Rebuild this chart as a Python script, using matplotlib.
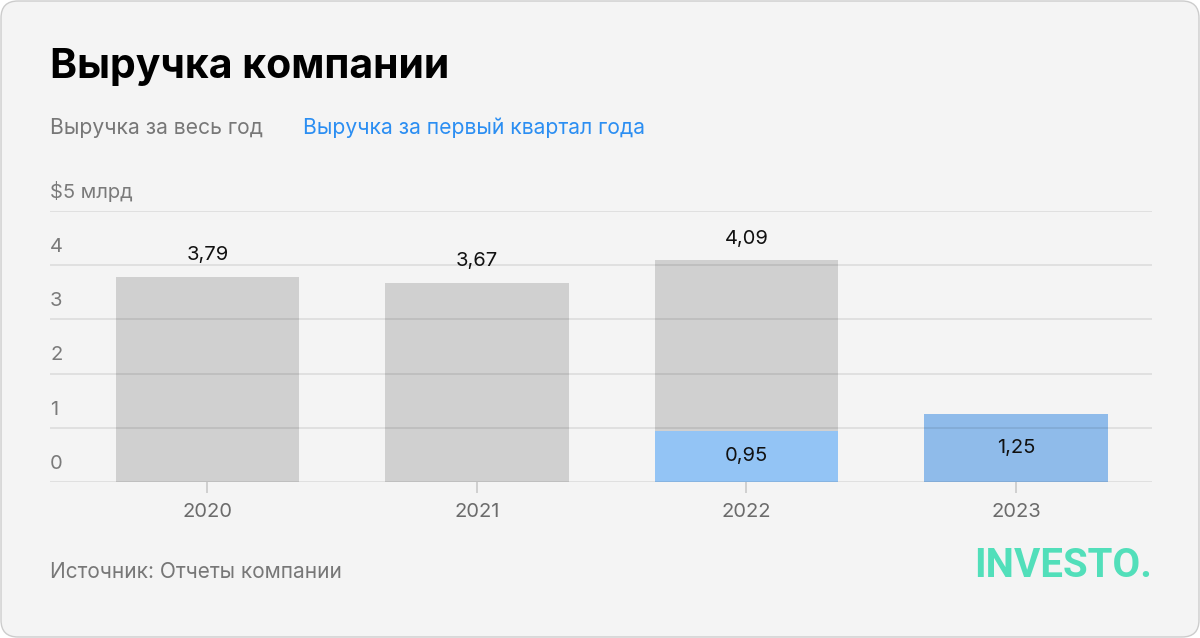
import matplotlib.pyplot as plt
from matplotlib.patches import FancyBboxPatch
from matplotlib.transforms import offset_copy

# данные
years = ['2020', '2021', '2022', '2023']
annual_idx = [0, 1, 2]
annual_vals = [3.79, 3.67, 4.09]
q1_idx = [2, 3]
q1_vals = [0.95, 1.25]
y_ticks = [0, 1, 2, 3, 4, 5]
y_tick_labels = ['0', '1', '2', '3', '4', '$5 млрд']

plt.rcParams['font.family'] = ['Inter', 'DejaVu Sans']

W, H = 1200, 638
fig = plt.figure(figsize=(12, 6.38), dpi=100)
fig.patch.set_facecolor('white')

# карточка
card = FancyBboxPatch((0.01, 0.01), 11.98, 6.36,
                      boxstyle='round,pad=0,rounding_size=0.17',
                      transform=fig.dpi_scale_trans,
                      facecolor='#f4f4f4', edgecolor='#cccccc', lw=1.0, zorder=-10)
fig.patches.append(card)

ax = fig.add_axes([50 / W, 1 - 482 / H, 1102 / W, 271 / H])
ax.set_facecolor('none')

ax.bar(annual_idx, annual_vals, width=0.68, color='#d0d0d0', zorder=1)
ax.bar(q1_idx, q1_vals, width=0.68, color=['#93c4f5', '#8fbbea'], zorder=1.1)

ax.set_ylim(0, 5)
ax.set_xlim(-0.584, 3.505)
ax.set_yticks(y_ticks)
ax.yaxis.grid(True, color='black', alpha=0.085, lw=1.3)
ax.set_axisbelow(False)
ax.tick_params(axis='y', length=0, labelleft=False)
ax.set_xticks(range(len(years)))
ax.set_xticklabels(years)
ax.tick_params(axis='x', length=8, width=1.2, color='#c9c9c9',
               labelsize=14.5, labelcolor='#6b6b6b', pad=7)
for s in ax.spines.values():
    s.set_visible(False)

# подписи оси Y над линиями сетки
ytr = offset_copy(ax.get_yaxis_transform(), fig=fig, y=9.5, units='points')
for v, lab in zip(y_ticks, y_tick_labels):
    ax.text(0, v, lab, transform=ytr, ha='left', va='baseline',
            fontsize=14.5, color='#7a7a7a')

# значения
top_tr = offset_copy(ax.transData, fig=fig, y=12, units='points')
for i, v in zip(annual_idx, annual_vals):
    ax.text(i, v, f'{v:.2f}'.replace('.', ','), transform=top_tr,
            ha='center', va='baseline', fontsize=14.5, color='#111111', zorder=5)
for i, v in zip(q1_idx, q1_vals):
    ax.text(i, v / 2, f'{v:.2f}'.replace('.', ','), ha='center',
            va='center', fontsize=14.5, color='#111111', zorder=5)

# заголовок и легенда
fig.text(50 / W, 1 - 67 / H, 'Выручка компании', fontsize=29.5, fontweight='bold',
         color='black', ha='left', va='center')
fig.text(50 / W, 1 - 128 / H, 'Выручка за весь год', fontsize=15.2,
         color='#777777', ha='left', va='center')
fig.text(303 / W, 1 - 128 / H, 'Выручка за первый квартал года', fontsize=15.2,
         color='#2b8ef2', ha='left', va='center')

fig.text(50 / W, 1 - 572 / H, 'Источник: Отчеты компании', fontsize=15,
         color='#777777', ha='left', va='center')
fig.text(1152 / W, 1 - 566 / H, 'INVESTO.', fontsize=29, fontweight='bold',
         family=['Liberation Sans Narrow', 'Roboto', 'DejaVu Sans'],
         color='#52dfba', ha='right', va='center')

fig.savefig('out.png', dpi=100, facecolor='white')
